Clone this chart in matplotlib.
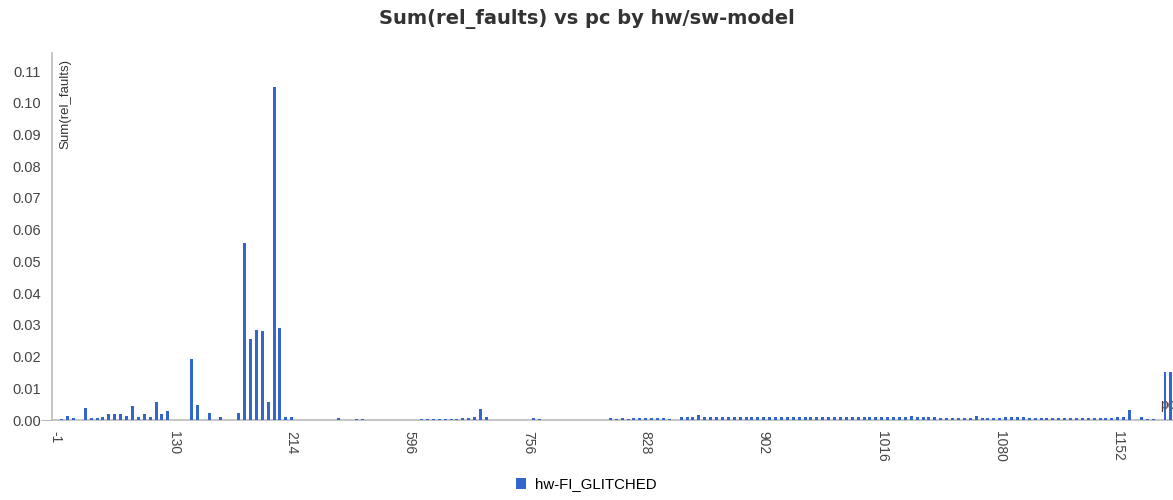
import numpy as np
from matplotlib import pyplot as plt

# summed relative faults per pc slot (one bar per slot, left to right)
rel_faults = [
    0, 0.0004, 0.0014, 0.0005, 0, 0.0037, 0.0005, 0.0005, 0.0008, 0.0019,
    0.0019, 0.0019, 0.0012, 0.0045, 0.0011, 0.0019, 0.0009, 0.0056, 0.0019, 0.0029,
    0, 0, 0, 0.0192, 0.0048, 0, 0.0022, 0, 0.0010, 0,
    0, 0.0022, 0.0558, 0.0255, 0.0284, 0.0281, 0.0058, 0.1050, 0.0290, 0.0008,
    0.0008, 0, 0, 0, 0, 0, 0, 0, 0.0007, 0,
    0, 0.0004, 0.0004, 0, 0, 0, 0, 0, 0, 0,
    0, 0, 0.0004, 0.0004, 0.0004, 0.0004, 0.0004, 0.0004, 0.0004, 0.0005,
    0.0006, 0.0009, 0.0035, 0.0009, 0, 0, 0, 0, 0, 0,
    0, 0.0007, 0.0004, 0, 0, 0, 0, 0, 0, 0,
    0, 0, 0, 0, 0.0005, 0.0004, 0.0005, 0.0004, 0.0005, 0.0005,
    0.0005, 0.0006, 0.0005, 0.0006, 0.0004, 0, 0.0009, 0.0009, 0.0010, 0.0017,
    0.0011, 0.0010, 0.0010, 0.0010, 0.0009, 0.0010, 0.0010, 0.0009, 0.0010, 0.0010,
    0.0010, 0.0009, 0.0010, 0.0010, 0.0009, 0.0010, 0.0010, 0.0010, 0.0009, 0.0010,
    0.0010, 0.0009, 0.0010, 0.0010, 0.0010, 0.0009, 0.0010, 0.0010, 0.0010, 0.0009,
    0.0010, 0.0010, 0.0009, 0.0010, 0.0010, 0.0013, 0.0009, 0.0008, 0.0009, 0.0008,
    0.0006, 0.0005, 0.0005, 0.0006, 0.0005, 0.0006, 0.0012, 0.0005, 0.0006, 0.0005,
    0.0006, 0.0008, 0.0008, 0.0011, 0.0011, 0.0006, 0.0005, 0.0005, 0.0006, 0.0005,
    0.0005, 0.0006, 0.0005, 0.0005, 0.0006, 0.0005, 0.0005, 0.0006, 0.0006, 0.0007,
    0.0008, 0.0009, 0.0033, 0, 0.0009, 0.0004, 0.0004, 0, 0.0152, 0.0152,
]
slots = np.arange(len(rel_faults))

# only every 20th slot gets a pc label
pc_tick_slots = [0, 20, 40, 60, 80, 100, 120, 140, 160, 180]
pc_labels = ['-1', '130', '214', '596', '756', '828', '902', '1016', '1080', '1152']

y_ticks = [0.00, 0.01, 0.02, 0.03, 0.04, 0.05, 0.06, 0.07, 0.08, 0.09, 0.10, 0.11]

series_name = 'hw-FI_GLITCHED'
BAR_COLOR = '#3366cc'

plt.rcParams['font.family'] = ['Liberation Sans', 'DejaVu Sans']

fig = plt.figure(figsize=(11.73, 5.0), dpi=100)
ax = fig.add_axes([0.0443, 0.16, 0.9557, 0.734])

ax.text(0.9955, 0.022, 'pc', transform=ax.transAxes, fontsize=10,
        color='#5a3a2a', ha='center', va='bottom', zorder=1)
# bars sit on top of the baseline so the tiny values still show
ax.bar(slots, rel_faults, width=0.5, color=BAR_COLOR, zorder=3, label=series_name)

ax.set_xlim(-0.64, 189.36)
ax.set_ylim(0, 0.1157)

ax.set_xticks(pc_tick_slots)
ax.set_xticklabels(pc_labels, rotation=-90, fontsize=10, color='#444444')
ax.tick_params(axis='x', length=0, pad=8)

ax.set_yticks(y_ticks)
ax.set_yticklabels(['%.2f' % v for v in y_ticks], fontsize=10.5, color='#444444')
ax.tick_params(axis='y', length=8, color='#bbbbbb', pad=0)
# keep the tick mark only at the baseline
for t in ax.yaxis.get_major_ticks()[1:]:
    t.tick1line.set_visible(False)

for side in ['top', 'right']:
    ax.spines[side].set_visible(False)
ax.spines['left'].set_color('#bbbbbb')
ax.spines['bottom'].set_color('#bbbbbb')
ax.spines['left'].set_linewidth(1.2)
ax.spines['bottom'].set_linewidth(1.2)

ax.text(0.012, 0.985, 'Sum(rel_faults)', transform=ax.transAxes, rotation=90,
        fontsize=9.5, color='#333333', ha='center', va='top')

fig.suptitle('Sum(rel_faults) vs pc by hw/sw-model', x=0.5, y=0.982,
             fontsize=14, fontweight='bold', family='DejaVu Sans', color='#333333')

fig.legend(loc='lower center', bbox_to_anchor=(0.5, -0.01), frameon=False,
           fontsize=10.8, handlelength=0.7, handleheight=0.7, handletextpad=0.6)

fig.savefig('out.png', dpi=100)
